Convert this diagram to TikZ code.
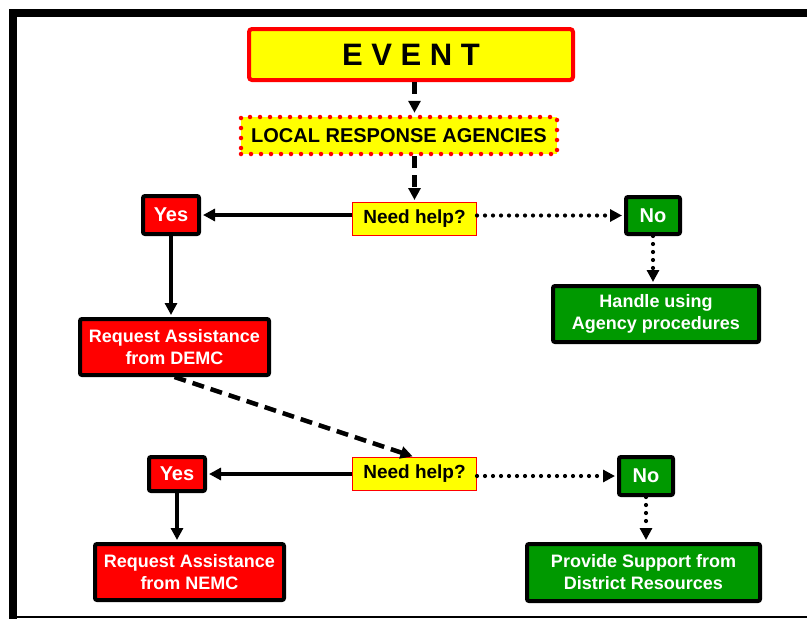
\documentclass[tikz,border=0pt]{standalone}
\usepackage{fontspec}
\setmainfont{Liberation Sans}
\usetikzlibrary{arrows.meta}
\definecolor{flowInk}{HTML}{000000}
\definecolor{flowRed}{HTML}{FF0000}
\definecolor{flowYellow}{HTML}{FFFF00}
\definecolor{flowGreen}{HTML}{009900}
\tikzset{
  every picture/.style={font=\bfseries, text=flowInk},
  flow box/.style={draw=flowInk, line width=4pt, rounded corners=2pt,
    align=center, inner sep=0pt, text=white,
    font=\bfseries\fontsize{18}{22}\selectfont},
  flow red/.style={flow box, fill=flowRed},
  flow green/.style={flow box, fill=flowGreen},
  flow ask/.style={draw=flowRed, line width=1pt, fill=flowYellow, inner sep=0pt,
    minimum width=124pt, minimum height=33pt,
    font=\bfseries\fontsize{19}{22}\selectfont},
  flow arrow/.style={-{Triangle[length=12pt,width=12pt]}, draw=flowInk,
    line width=3.5pt, shorten >=2pt},
  flow dashed/.style={flow arrow, line width=4.5pt, dash pattern=on 12pt off 7pt},
  flow dotted/.style={flow arrow, line width=4.2pt, line cap=round,
    dash pattern=on 0pt off 8pt}
}

\begin{document}
\begin{tikzpicture}[x=1pt,y=-1pt]
  \useasboundingbox (0,0) rectangle (807,619);
  \draw[line width=8pt] (13,619) -- (13,13) -- (807,13);
  \draw[line width=2pt] (9,617) -- (807,617);

  \node[draw=flowRed, line width=4pt, rounded corners=3pt, fill=flowYellow,
    minimum width=324pt, minimum height=51pt, inner sep=0pt,
    font=\bfseries\fontsize{31}{34}\selectfont] (event) at (411,54.5) {E V E N T};
  \node[draw=flowRed, line width=4.5pt, line cap=round, dash pattern=on 0pt off 10pt,
    fill=flowYellow, minimum width=316pt, minimum height=37pt, inner sep=0pt,
    font=\bfseries\fontsize{20}{22}\selectfont] (lra) at (399,135.5) {LOCAL RESPONSE AGENCIES};

  \node[flow ask] (need1) at (414.5,219) {Need help?};
  \node[flow red, minimum width=56pt, minimum height=38pt,
    font=\bfseries\fontsize{20}{22}\selectfont] (yes1) at (171,215) {Yes};
  \node[flow green, minimum width=54pt, minimum height=37pt,
    font=\bfseries\fontsize{20}{22}\selectfont] (no1) at (653,215.5) {No};
  \node[flow green, minimum width=206pt, minimum height=56pt] (handle) at (656,314)
    {Handle using\\Agency procedures};
  \node[flow red, minimum width=189pt, minimum height=56pt] (demc) at (174.5,347)
    {Request Assistance\\from DEMC};

  \node[flow ask] (need2) at (414.5,474) {Need help?};
  \node[flow red, minimum width=56pt, minimum height=34pt,
    font=\bfseries\fontsize{20}{22}\selectfont] (yes2) at (177,474) {Yes};
  \node[flow green, minimum width=54pt, minimum height=38pt,
    font=\bfseries\fontsize{20}{22}\selectfont] (no2) at (646,476) {No};
  \node[flow red, minimum width=189pt, minimum height=56pt] (nemc) at (189.5,572)
    {Request Assistance\\from NEMC};
  \node[flow green, minimum width=233pt, minimum height=57pt] (provide) at (643.5,572.5)
    {Provide Support from\\District Resources};

  % first round
  \draw[flow dashed] (event.south -| need1.north) -- (lra.north -| need1.north);
  \draw[flow dashed] (lra.south -| need1.north) -- (need1.north);
  \draw[flow arrow] (need1.west |- yes1.east) -- (yes1.east);
  \draw[flow dotted] (need1.east |- no1.west) -- (no1.west);
  \draw[flow dotted] (no1.south) -- (no1.south |- handle.north);
  \draw[flow arrow] (yes1.south) -- (yes1.south |- demc.north);

  % second round
  \draw[flow dashed] (demc.south) -- (need2.north);
  \draw[flow arrow] (need2.west |- yes2.east) -- (yes2.east);
  \draw[flow dotted] (need2.east |- no2.west) -- (no2.west);
  \draw[flow dotted] (no2.south) -- (no2.south |- provide.north);
  \draw[flow arrow] (yes2.south) -- (yes2.south |- nemc.north);
\end{tikzpicture}
\end{document}
